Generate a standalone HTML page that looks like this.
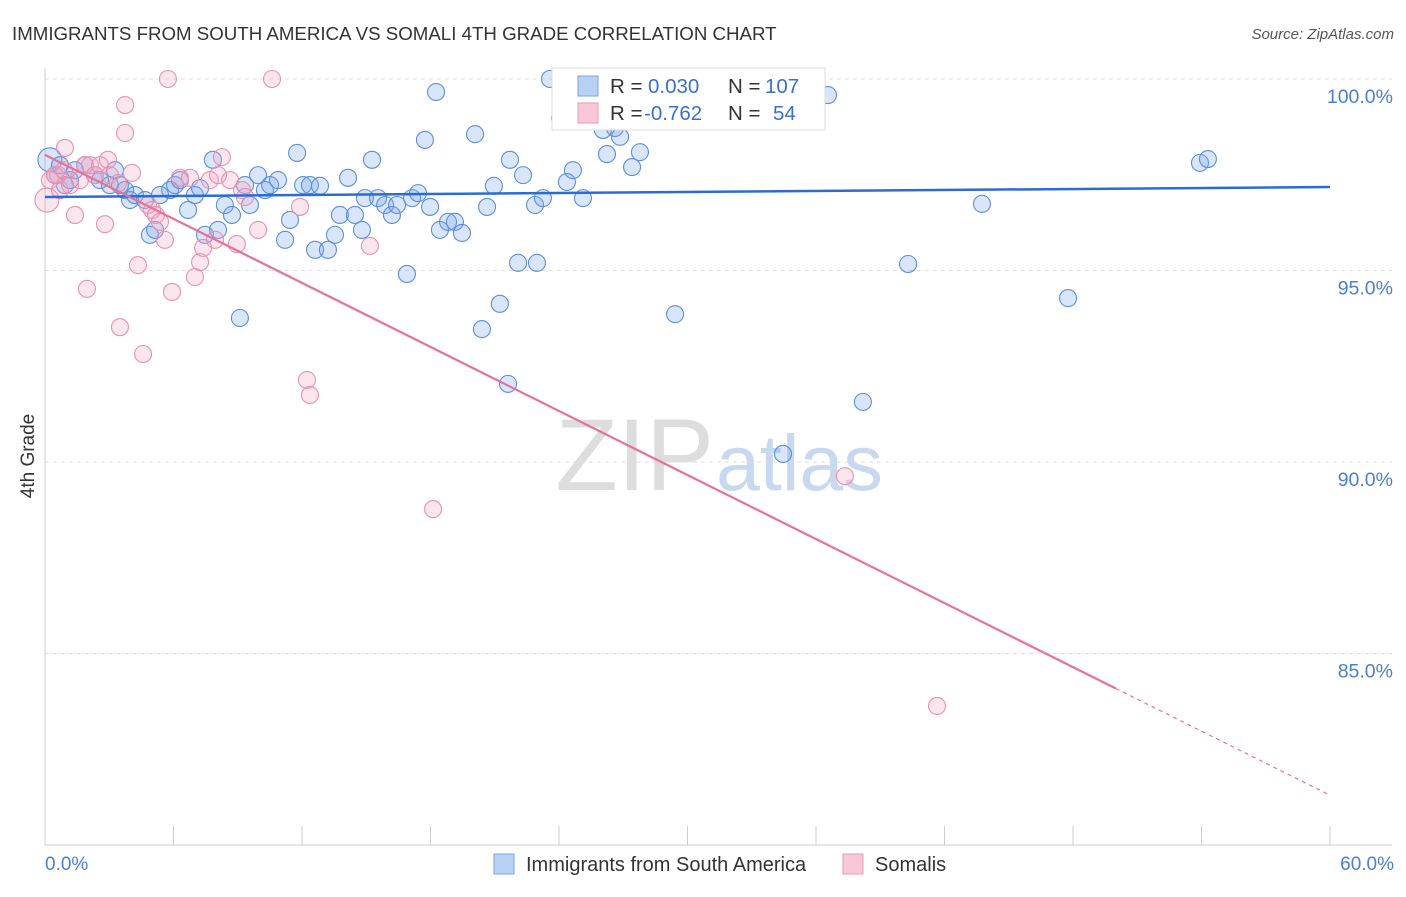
<!DOCTYPE html>
<html><head><meta charset="utf-8"><style>
body{margin:0;background:#fff;font-family:"Liberation Sans",sans-serif;}
svg text{font-family:"Liberation Sans",sans-serif;}
</style></head><body>
<svg id="chart" width="1406" height="892" xmlns="http://www.w3.org/2000/svg">
<text x="12" y="40" font-size="18.7" fill="#333">IMMIGRANTS FROM SOUTH AMERICA VS SOMALI 4TH GRADE CORRELATION CHART</text>
<text x="1394" y="39" font-size="15" fill="#555" font-style="italic" text-anchor="end">Source: ZipAtlas.com</text>
<text x="714" y="490" font-size="102" fill="#ddd" text-anchor="end" font-family="Liberation Serif">ZIP</text>
<text x="716" y="490" font-size="79" fill="#c8d8ee">atlas</text>
<g id="grid"></g>
<g id="axes"></g>
<g id="pts"></g>
<g id="lines"></g>
<text x="34" y="456" font-size="19" fill="#333" transform="rotate(-90 34 456)" text-anchor="middle">4th Grade</text>
<text x="45" y="870" font-size="19" fill="#4a7fd4">0.0%</text>
<text x="1394" y="870" font-size="19" fill="#4a7fd4" text-anchor="end">60.0%</text>
<g>
<rect x="552" y="68" width="273" height="62" fill="#fff" stroke="#ddd"/>
<rect x="578" y="76" width="20" height="20" fill="#b8d0f4" stroke="#7aa5e6"/>
<rect x="578" y="103" width="20" height="20" fill="#f8c8d8" stroke="#eb9ab6"/>
<text x="610" y="93" font-size="20.5" fill="#333">R = </text><text x="648" y="93" font-size="20.5" fill="#3a6fd0">0.030</text>
<text x="728" y="93" font-size="20.5" fill="#333">N = </text><text x="765" y="93" font-size="20.5" fill="#3a6fd0">107</text>
<text x="610" y="120" font-size="20.5" fill="#333">R = </text><text x="644" y="120" font-size="20.5" fill="#3a6fd0">-0.762</text>
<text x="728" y="120" font-size="20.5" fill="#333">N = </text><text x="773" y="120" font-size="20.5" fill="#3a6fd0">54</text>
</g>
<g>
<rect x="494" y="854" width="20" height="20" fill="#b8d0f4" stroke="#7aa5e6"/>
<text x="526" y="871" font-size="20" fill="#333">Immigrants from South America</text>
<rect x="843" y="854" width="20" height="20" fill="#f8c8d8" stroke="#eb9ab6"/>
<text x="875" y="871" font-size="20" fill="#333">Somalis</text>
</g>
</svg>
<script>
const yTicks=[100,95,90,85];
const xTicks=[0,6,12,18,24,30,36,42,48,54,60];
const bluePx=[[50,160],[55,175],[60,165],[65,185],[70,180],[75,170],[85,165],[95,175],[100,180],[110,185],[115,170],[120,185],[125,190],[130,200],[135,195],[145,200],[150,235],[155,230],[160,195],[170,190],[175,185],[180,180],[188,210],[195,195],[200,188],[205,235],[213,160],[218,230],[225,205],[232,215],[240,318],[245,185],[250,205],[258,175],[265,190],[270,185],[278,180],[285,240],[290,220],[297,153],[303,185],[310,185],[315,250],[320,186],[328,250],[335,235],[340,215],[348,178],[355,215],[362,230],[365,198],[372,160],[378,198],[385,205],[392,215],[397,205],[407,274],[412,198],[418,193],[425,140],[430,207],[436,92],[440,230],[448,222],[455,222],[462,233],[475,134],[482,329],[487,207],[494,186],[500,304],[508,384],[510,160],[518,263],[523,175],[535,205],[537,263],[543,198],[550,79],[560,118],[567,182],[573,170],[583,198],[603,130],[607,154],[615,128],[620,137],[628,79],[632,167],[640,152],[675,314],[727,82],[740,105],[800,80],[828,95],[863,402],[908,264],[982,204],[1068,298],[1200,163],[1208,159],[783,454]];
const pinkPx=[[47,200],[50,180],[55,175],[60,190],[65,148],[70,185],[75,215],[80,180],[85,165],[87,289],[90,165],[95,175],[100,165],[105,224],[108,160],[110,175],[118,183],[120,327],[125,105],[125,133],[132,173],[138,265],[143,354],[148,205],[152,210],[156,215],[160,222],[165,240],[168,79],[172,292],[180,178],[190,178],[195,277],[200,262],[203,248],[210,180],[215,240],[218,175],[222,157],[230,180],[237,244],[242,190],[245,197],[258,230],[272,79],[300,207],[307,380],[310,395],[370,246],[433,509],[845,476],[937,706],[58,175],[64,170]];
// data values (% x, % y) derived from the picture
const blueX=bluePx.map(p=>+((p[0]-45)/21.417).toFixed(2));
const blueY=bluePx.map(p=>+(100-(p[1]-79)/38.3).toFixed(2));
const pinkX=pinkPx.map(p=>+((p[0]-45)/21.417).toFixed(2));
const pinkY=pinkPx.map(p=>+(100-(p[1]-79)/38.3).toFixed(2));
const blueTrend=[96.92,97.18];
const pinkTrend=[98.02,81.3];
const pinkSolidEnd=50;
const X=v=>45+v*1285/60, Y=v=>79+(100-v)*38.3;
const NS="http://www.w3.org/2000/svg";
function mk(t,a,p){const e=document.createElementNS(NS,t);for(const k in a)e.setAttribute(k,a[k]);p.appendChild(e);return e;}
const grid=document.getElementById('grid'),axes=document.getElementById('axes'),pts=document.getElementById('pts'),lines=document.getElementById('lines');
yTicks.forEach(v=>{const l=mk('line',{x1:45,x2:1392,y1:Y(v),y2:Y(v),stroke:'#ddd','stroke-dasharray':'4,4'},grid);


const t=mk('text',{x:1393,y:Y(v)+24,'font-size':19.5,fill:'#4a7fd4','text-anchor':'end'},grid);t.textContent=v.toFixed(1)+'%';

});
const ax=mk('line',{x1:45,x2:45,y1:68,y2:845,stroke:'#ccc'},axes);


const bx=mk('line',{x1:45,x2:1392,y1:845,y2:845,stroke:'#ccc'},axes);


xTicks.forEach(v=>{const l=mk('line',{x1:X(v),x2:X(v),y1:826,y2:845,stroke:'#ccc'},axes);

});
blueX.forEach((x,i)=>{const c=mk('circle',{cx:X(x),cy:Y(blueY[i]),r:i==0?12:8.5,fill:'rgba(120,165,235,0.28)',stroke:'#5b8fd9','stroke-width':1.1},pts);

});
pinkX.forEach((x,i)=>{const c=mk('circle',{cx:X(x),cy:Y(pinkY[i]),r:i==0?12:8.5,fill:'rgba(245,165,195,0.28)',stroke:'#e890b0','stroke-width':1.1},pts);

});
const bl=mk('line',{x1:X(0),x2:X(60),y1:Y(blueTrend[0]),y2:Y(blueTrend[1]),stroke:'#2a6bd6','stroke-width':2.5},lines);


const pv=x=>pinkTrend[0]+(pinkTrend[1]-pinkTrend[0])*x/60;
const pl=mk('line',{x1:X(0),x2:X(pinkSolidEnd),y1:Y(pv(0)),y2:Y(pv(pinkSolidEnd)),stroke:'#e8709a','stroke-width':2.2},lines);


const pd=mk('line',{x1:X(pinkSolidEnd),x2:X(60),y1:Y(pv(pinkSolidEnd)),y2:Y(pv(60)),stroke:'#e8709a','stroke-width':1.2,'stroke-dasharray':'4,4'},lines);


</script>
</body></html>
